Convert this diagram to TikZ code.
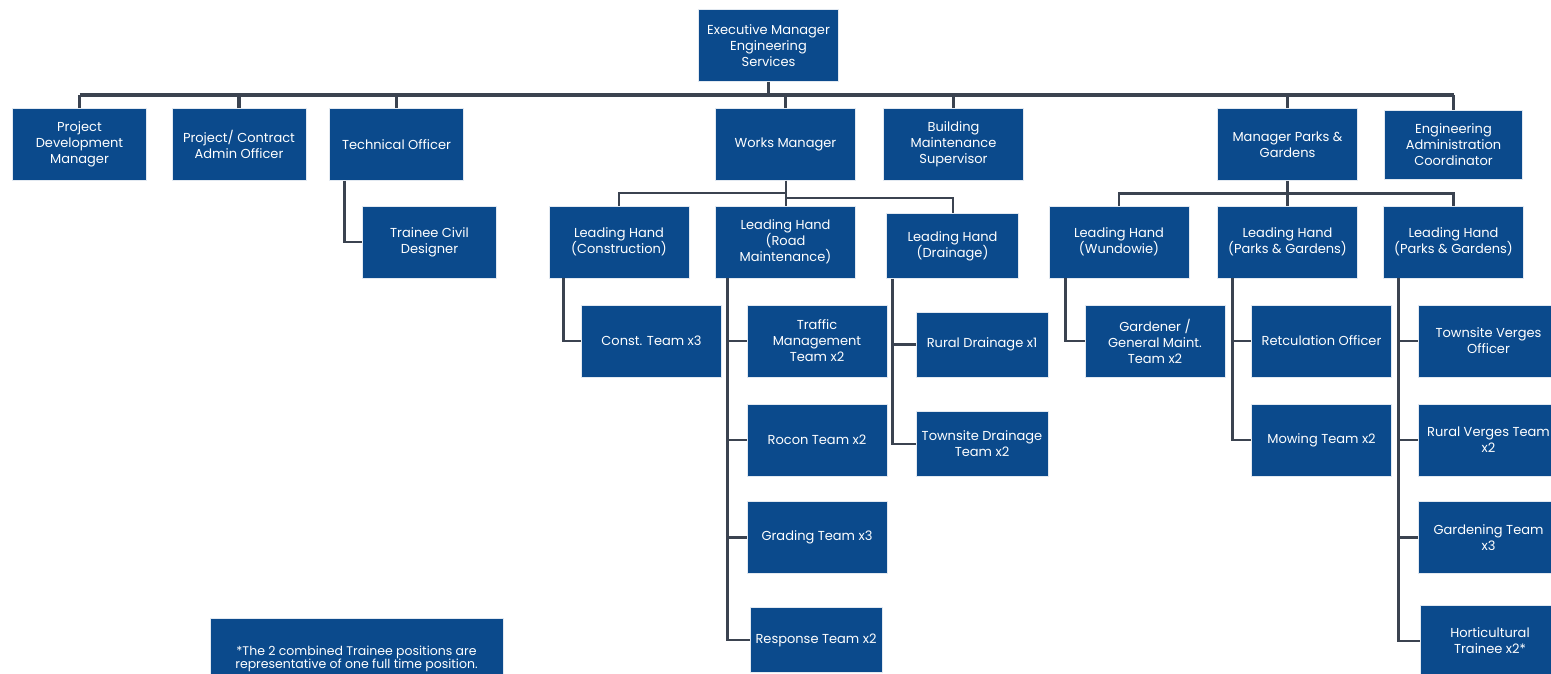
\documentclass[tikz,border=0pt]{standalone}
\usepackage{fontspec}
\setmainfont{Poppins}
\usetikzlibrary{positioning}
\definecolor{orgblue}{HTML}{0B4A8C}
\definecolor{linkgray}{HTML}{3B4350}
\tikzset{
  box/.style={fill=orgblue, draw=orgblue!12, line width=0.6pt, text=white, align=center,
    minimum width=140pt, minimum height=72pt, inner sep=1pt,
    font=\fontsize{13}{16}\selectfont},
  narrow/.style={box, minimum width=134pt},
  small/.style={box, minimum width=132pt, minimum height=65pt},
  trunk/.style={draw=linkgray, line width=3.5pt},
  link/.style={draw=linkgray, line width=2.8pt},
  thinlink/.style={draw=linkgray, line width=2pt}
}
\begin{document}
\begin{tikzpicture}[x=1pt, y=-1pt, node distance=99pt]
		\useasboundingbox (0,0) rectangle (1551,674);
		% top level
		\node [box] (exec) at (768.5,45.5) {Executive Manager\\Engineering\\Services};
		\node [narrow] (pdm) at (79.5,144.5) {Project\\Development\\Manager};
		\node [narrow] (pca) at (239,144.5) {Project/ Contract\\Admin Officer};
		\node [narrow] (techo) at (396.5,144.5) {Technical Officer};
		\node [box] (works) at (785.5,144.5) {Works Manager};
		\node [box] (bms) at (953.5,144.5) {Building\\Maintenance\\Supervisor};
		\node [box] (mpg) at (1287.5,144.5) {Manager Parks \&\\Gardens};
		\node [box, minimum width=138pt, minimum height=69pt] (eac) at (1453.5,144.5) {Engineering\\Administration\\Coordinator};
		
		% leading hands
		\node [narrow, below of=techo, node distance=97.5pt, xshift=33pt] (tcd) {Trainee Civil\\Designer};
		\node [box, below of=works, node distance=97.5pt, xshift=-166.5pt] (lhcons) {Leading Hand\\(Construction)};
		\node [box, below of=works, node distance=97.5pt] (lhroad) {Leading Hand\\(Road\\Maintenance)};
		\node [small, below of=bms, node distance=101.5pt, xshift=-1pt] (lhdrain) {Leading Hand\\(Drainage)};
		\node [box, below of=mpg, node distance=97.5pt, xshift=-168.5pt] (lhwund) {Leading Hand\\(Wundowie)};
		\node [box, below of=mpg, node distance=97.5pt] (lhpg) {Leading Hand\\(Parks \& Gardens)};
		\node [box, below of=eac, node distance=97.5pt] (lhpgtwo) {Leading Hand\\(Parks \& Gardens)};
		
		% teams
		\node [box, below of=lhcons, xshift=32.5pt] (const) {Const. Team x3};
		\node [box, below of=lhroad, xshift=31.5pt] (traffic) {Traffic\\Management\\Team x2};
		\node [box, below of=traffic] (rocon) {Rocon Team x2};
		\node [box, below of=rocon, node distance=97.5pt] (grading) {Grading Team x3};
		\node [small, below of=grading, node distance=102.5pt, xshift=-1pt] (response) {Response Team x2};
		\node [small, below of=lhdrain, node distance=98.5pt, xshift=29.5pt] (ruraldr) {Rural Drainage x1};
		\node [small, below of=ruraldr, node distance=99.5pt] (townsdr) {Townsite Drainage\\Team x2};
		\node [box, below of=lhwund, xshift=36pt] (gardener) {Gardener /\\General Maint.\\Team x2};
		\node [box, below of=lhpg, xshift=34pt] (retic) {Retculation Officer};
		\node [box, below of=retic] (mowing) {Mowing Team x2};
		\node [box, below of=lhpgtwo, xshift=35pt] (tvo) {Townsite Verges\\Officer};
		\node [box, below of=tvo] (ruralv) {Rural Verges Team\\x2};
		\node [box, below of=ruralv, node distance=97.5pt] (gardening) {Gardening Team\\x3};
		\node [box, below of=gardening, node distance=103.5pt, xshift=1.5pt] (horti) {Horticultural\\Trainee x2*};
		
		\node [box, minimum width=293pt, minimum height=82pt, font=\fontsize{12.5}{13}\selectfont] (note) at (356.5,659) {*The 2 combined Trainee positions are\\representative of one full time position.};
		
		% main bus
		\coordinate (bus) at (0,95);
		\draw[trunk]
		(pdm.north |- bus) -- (eac.north |- bus);
		\draw[trunk]
		(exec) -- (exec |- bus);
		\foreach \n in {pdm,pca,techo,works,bms,mpg,eac}
		\draw[trunk] (\n.north) -- (\n.north |- bus);
		
		% works manager
		\draw[thinlink]
		(works.south) -- +(0,12) -| (lhcons.north);
		\draw[thinlink]
		(works.south) -- +(0,17) -| (lhdrain.north);
		\draw[thinlink]
		(works.south) -- (lhroad.north);
		
		% manager parks & gardens
		\draw[link]
		(mpg.south) -- +(0,13) coordinate (mbus);
		\draw[link]
		(lhwund.north) |- (mbus) -| (lhpgtwo.north);
		\draw[link]
		(mbus) -- (lhpg.north);
		
		% side spines
		\draw[link]
		([xshift=15pt]techo.south west) |- (tcd.west);
		\draw[link]
		([xshift=15pt]lhcons.south west) |- (const.west);
		\foreach \c in {traffic,rocon,grading,response}
		\draw[link] ([xshift=12pt]lhroad.south west) |- (\c.west);
		\foreach \c in {ruraldr,townsdr}
		\draw[link] ([xshift=6pt]lhdrain.south west) |- (\c.west);
		\draw[link]
		([xshift=17pt]lhwund.south west) |- (gardener.west);
		\foreach \c in {retic,mowing}
		\draw[link] ([xshift=15pt]lhpg.south west) |- (\c.west);
		\foreach \c in {tvo,ruralv,gardening,horti}
		\draw[link] ([xshift=15pt]lhpgtwo.south west) |- (\c.west);
		
		\end{tikzpicture}
\end{document}
